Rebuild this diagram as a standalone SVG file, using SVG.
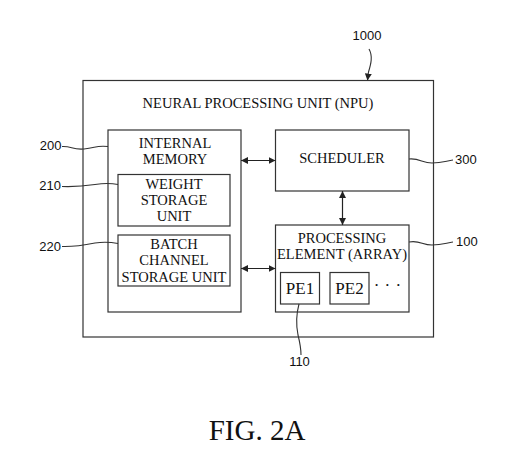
<svg xmlns="http://www.w3.org/2000/svg" width="512" height="465" viewBox="0 0 512 465">
<defs>
<marker id="ah" markerUnits="userSpaceOnUse" markerWidth="7" markerHeight="7" refX="7" refY="3.5" orient="auto-start-reverse">
<path d="M0,0 L7,3.5 L0,7 z" fill="#222"/>
</marker>
<style>
.box{fill:none;stroke:#333;stroke-width:1.2}
.t{font-family:"Liberation Serif","Times New Roman",serif;font-size:14.5px;fill:#111;text-anchor:middle}
.pe{font-size:17px}
.lbl{font-family:"Liberation Sans",Arial,sans-serif;font-size:13px;fill:#111}
.ln{fill:none;stroke:#333;stroke-width:1.1}
.ar{fill:none;stroke:#222;stroke-width:1.2;marker-start:url(#ah);marker-end:url(#ah)}
</style>
</defs>
<rect width="512" height="465" fill="#fff"/>

<g id="npu">
<rect class="box" x="83" y="80.5" width="350.5" height="256.5"/>
<text class="t" x="258" y="108">NEURAL PROCESSING UNIT (NPU)</text>
</g>

<g id="internal-memory">
<rect class="box" x="108" y="130" width="133" height="182"/>
<text class="t" x="175" y="148">INTERNAL</text>
<text class="t" x="175" y="163.5">MEMORY</text>
</g>

<g id="weight-storage">
<rect class="box" x="118" y="174.5" width="112" height="51.5"/>
<text class="t" x="174" y="189">WEIGHT</text>
<text class="t" x="174" y="205">STORAGE</text>
<text class="t" x="174" y="221">UNIT</text>
</g>

<g id="batch-channel-storage">
<rect class="box" x="118" y="235" width="112" height="51"/>
<text class="t" x="174" y="248.5">BATCH</text>
<text class="t" x="174" y="265">CHANNEL</text>
<text class="t" x="174" y="281.5">STORAGE UNIT</text>
</g>

<g id="scheduler">
<rect class="box" x="275.5" y="130" width="133.5" height="61"/>
<text class="t" x="342" y="163">SCHEDULER</text>
</g>

<g id="processing-element">
<rect class="box" x="275.5" y="225" width="133.5" height="87"/>
<text class="t" x="342" y="242.5">PROCESSING</text>
<text class="t" x="342" y="258.5">ELEMENT (ARRAY)</text>
<text class="t pe" x="376.7 387.3 398.3" y="291">···</text>
</g>

<g id="pe1">
<rect class="box" x="280.5" y="272.5" width="39" height="31.5"/>
<text class="t pe" x="300" y="294">PE1</text>
</g>

<g id="pe2">
<rect class="box" x="330" y="272.5" width="39" height="31.5"/>
<text class="t pe" x="349.5" y="294">PE2</text>
</g>

<g id="connectors">
<line class="ar" x1="241" y1="160.5" x2="275.5" y2="160.5"/>
<line class="ar" x1="241" y1="268.5" x2="275.5" y2="268.5"/>
<line class="ar" x1="342.5" y1="191" x2="342.5" y2="225"/>
<path class="ln" d="M369,49 C373,56 371,64 368.5,72 L367.5,80.5" marker-end="url(#ah)"/>
<path class="ln" d="M62,146.5 C72,146 72,150 84,149 C96,148 96,145 108,146.5"/>
<path class="ln" d="M62,186.5 C75,187 85,186 95,184.5 C105,183 110,183 118,184.5"/>
<path class="ln" d="M62,246.5 C75,247 85,245 95,243 C105,241.5 110,242 118,243.5"/>
<path class="ln" d="M409,159 C420,158 422,163 432,163 C442,163 446,161 453,160"/>
<path class="ln" d="M409,242 C420,240 422,245 432,245 C442,245 446,243 453,242"/>
<path class="ln" d="M299,304 C296,315 296,325 298,335 C300,343 301,347 301,355"/>
</g>

<g id="labels">
<text class="lbl" x="367" y="39.5" text-anchor="middle">1000</text>
<text class="lbl" x="61.5" y="150" text-anchor="end">200</text>
<text class="lbl" x="61" y="190" text-anchor="end">210</text>
<text class="lbl" x="61" y="250.5" text-anchor="end">220</text>
<text class="lbl" x="455" y="163.5">300</text>
<text class="lbl" x="456" y="246">100</text>
<text class="lbl" x="299.5" y="366" text-anchor="middle">110</text>
</g>

<text class="t" x="257" y="440" style="font-size:29px">FIG. 2A</text>
</svg>
